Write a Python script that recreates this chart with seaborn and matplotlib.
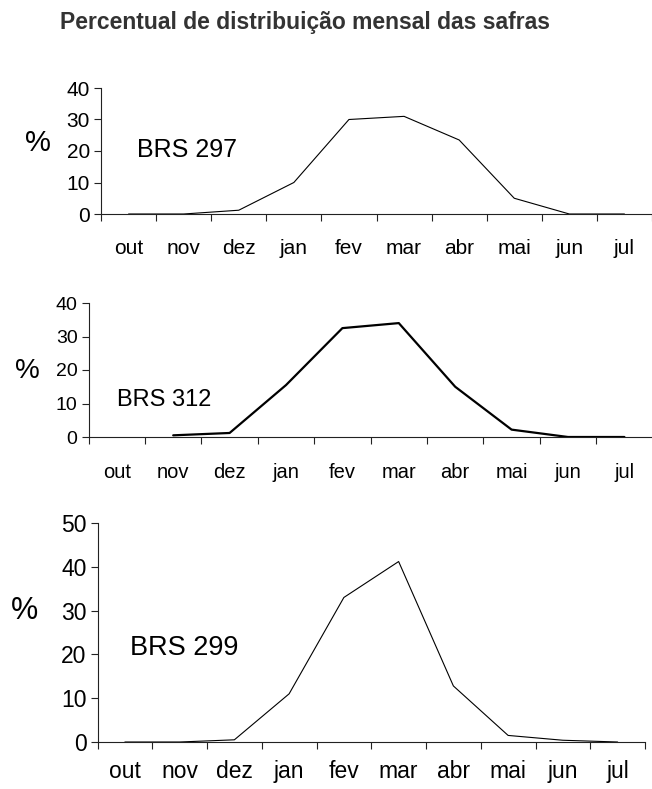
import numpy as np
import pandas as pd
import matplotlib
matplotlib.use("Agg")
import matplotlib.pyplot as plt
import seaborn as sns

months = ["out", "nov", "dez", "jan", "fev", "mar", "abr", "mai", "jun", "jul"]
brs297 = [0, 0, 1.2, 10, 30, 31, 23.5, 5, 0, 0]
brs312 = [np.nan, 0.5, 1.2, 15.5, 32.5, 34, 15, 2.2, 0, 0]
brs299 = [0, 0, 0.5, 11, 33, 41.2, 12.8, 1.5, 0.4, 0]
names = ["BRS 297", "BRS 312", "BRS 299"]
series = [brs297, brs312, brs299]
ylims = [40, 40, 50]
title = "Percentual de distribuição mensal das safras"

sns.set_theme(style="white")
plt.rcParams["font.family"] = ["Liberation Sans", "DejaVu Sans"]

W, H = 652, 789
fig = plt.figure(figsize=(W / 100, H / 100), dpi=100)

def fx(px):
    return px / W

def fy(py):
    return 1 - py / H

# axes boxes: (left px, right px, top px, bottom px)
boxes = [(101, 652, 88, 214), (88.6, 652.6, 303, 437), (97.5, 645, 523, 742)]
lws = [0.8, 1.6, 0.8]
pct_pos = [(38, 143), (27, 371), (25, 611)]
pct_size = [21, 20, 22]
lab_pos = [(137, 150), (117, 400), (130, 648)]
lab_size = [18, 17, 19.5]
ytick_size = [15, 14, 16.5]
xtick_size = [15, 14.5, 16.5]
lab_pad = [18, 19, 13]

x = np.arange(len(months))
for i, (vals, name) in enumerate(zip(series, names)):
    l, r, t, b = boxes[i]
    ax = fig.add_axes([fx(l), fy(b), fx(r - l), fy(t) - fy(b)])
    df = pd.DataFrame({"pos": x, "val": vals})
    sns.lineplot(data=df, x="pos", y="val", ax=ax, color="black", linewidth=lws[i])
    ax.set_xlim(-0.5, len(months) - 0.5)
    ax.set_ylim(0, ylims[i])
    ax.set_yticks(np.arange(0, ylims[i] + 1, 10))
    ax.set_xticks(x)
    ax.set_xticklabels(months)
    ax.set_xticks(np.arange(-0.5, len(months)), minor=True)
    ax.tick_params(axis="x", which="major", length=0, pad=lab_pad[i], labelsize=xtick_size[i], labelcolor="black")
    ax.tick_params(axis="x", which="minor", length=5, width=0.8, direction="out", color="#222222")
    ax.tick_params(axis="y", length=5, width=0.8, direction="out", labelsize=ytick_size[i], pad=3,
                   color="#222222", labelcolor="black")
    ax.xaxis.set_ticks_position("bottom")
    ax.yaxis.set_ticks_position("left")
    for s in ["top", "right"]:
        ax.spines[s].set_visible(False)
    for s in ["left", "bottom"]:
        ax.spines[s].set_color("#222222")
        ax.spines[s].set_linewidth(0.8)
    ax.set_xlabel("")
    ax.set_ylabel("")
    ax.patch.set_alpha(0)
    fig.text(fx(pct_pos[i][0]), fy(pct_pos[i][1]), "%", fontsize=pct_size[i], ha="center", va="center", color="black")
    fig.text(fx(lab_pos[i][0]), fy(lab_pos[i][1]), name, fontsize=lab_size[i], ha="left", va="center", color="black")

fig.text(fx(60), fy(23), title, fontsize=16.5, fontweight="bold", color="#333333", ha="left", va="center")

fig.savefig("out.png", dpi=100)
